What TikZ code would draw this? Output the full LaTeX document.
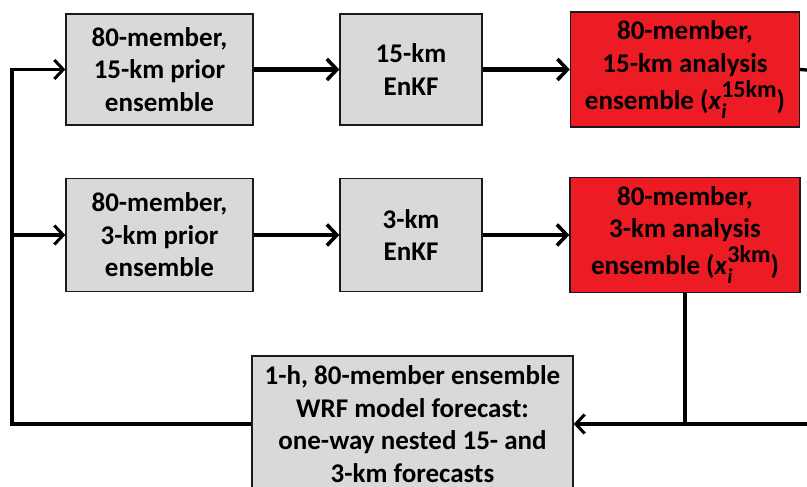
\documentclass[tikz,border=0pt]{standalone}
\usepackage{fontspec}
\setmainfont{Carlito}
\usetikzlibrary{arrows.meta}
\definecolor{boxgray}{HTML}{D9D9D9}
\definecolor{boxred}{HTML}{ED1C24}
\definecolor{edge}{HTML}{1A1A1A}
% superscript/subscript label for analysis ensembles
\newcommand{\ensvar}[1]{\textit{x}\makebox[0pt][l]{\raisebox{-0.34em}{\fontsize{21}{21}\selectfont\itshape i}}\raisebox{0.45em}{\fontsize{24}{24}\selectfont #1}}
\begin{document}
\begin{tikzpicture}[x=1pt,y=-1pt,
  font=\fontsize{27}{32.5}\selectfont\bfseries,
  box/.style={draw=edge,line width=1.3pt,fill=boxgray,align=center,inner sep=0pt},
  redbox/.style={box,fill=boxred},
  flow/.style={line width=4.2pt,-{Straight Barb[length=10pt,width=21pt,line width=3.6pt]}},
  loop/.style={line width=3.3pt},
  looparr/.style={loop,-{Straight Barb[length=9pt,width=19pt,line width=3pt]}}]
\clip (0,0) rectangle (807,487);
\useasboundingbox (0,0) rectangle (807,487);

% first row: 15-km domain
\node[box,minimum width=187pt,minimum height=111pt] (p15) at (159.5,69.5) {80-member,\\15-km prior\\ensemble};
\node[box,minimum width=142pt,minimum height=111pt] (e15) at (411,69.5) {15-km\\EnKF};
\node[redbox,minimum width=229pt,minimum height=115pt] (a15) at (685,69.5) {80-member,\\15-km analysis\\[3pt]ensemble (\ensvar{15km})};

% second row: 3-km domain
\node[box,minimum width=187pt,minimum height=113pt] (p3) at (159.5,235) {80-member,\\3-km prior\\ensemble};
\node[box,minimum width=142pt,minimum height=113pt] (e3) at (411,235) {3-km\\EnKF};
\node[redbox,minimum width=230pt,minimum height=115pt] (a3) at (685,235) {80-member,\\3-km analysis\\[3pt]ensemble (\ensvar{3km})};

% forecast step
\node[box,minimum width=321pt,minimum height=136pt] (fc) at (412.5,424) {1-h, 80-member ensemble\\WRF model forecast:\\one-way nested 15- and\\3-km forecasts};

% row connectors
\draw[flow] (p15.east) -- (e15.west);
\draw[flow] (e15.east) -- (a15.west);
\draw[flow] (p3.east) -- (e3.west);
\draw[flow] (e3.east) -- (a3.west);

% cycling loop
\coordinate (lc) at (12,424);
\coordinate (r1) at (807,70);
\coordinate (r2) at (807,424);
\coordinate (jn) at (685,424);
\draw[loop] (a15.east) -- (r1);
\draw[loop] (a3.south) -- (jn);
\draw[looparr] (r2) -- (fc.east);
\draw[looparr] (fc.west) -- (lc) |- (p15.west);
\draw[looparr] (lc |- p3.west) -- (p3.west);
\end{tikzpicture}
\end{document}
